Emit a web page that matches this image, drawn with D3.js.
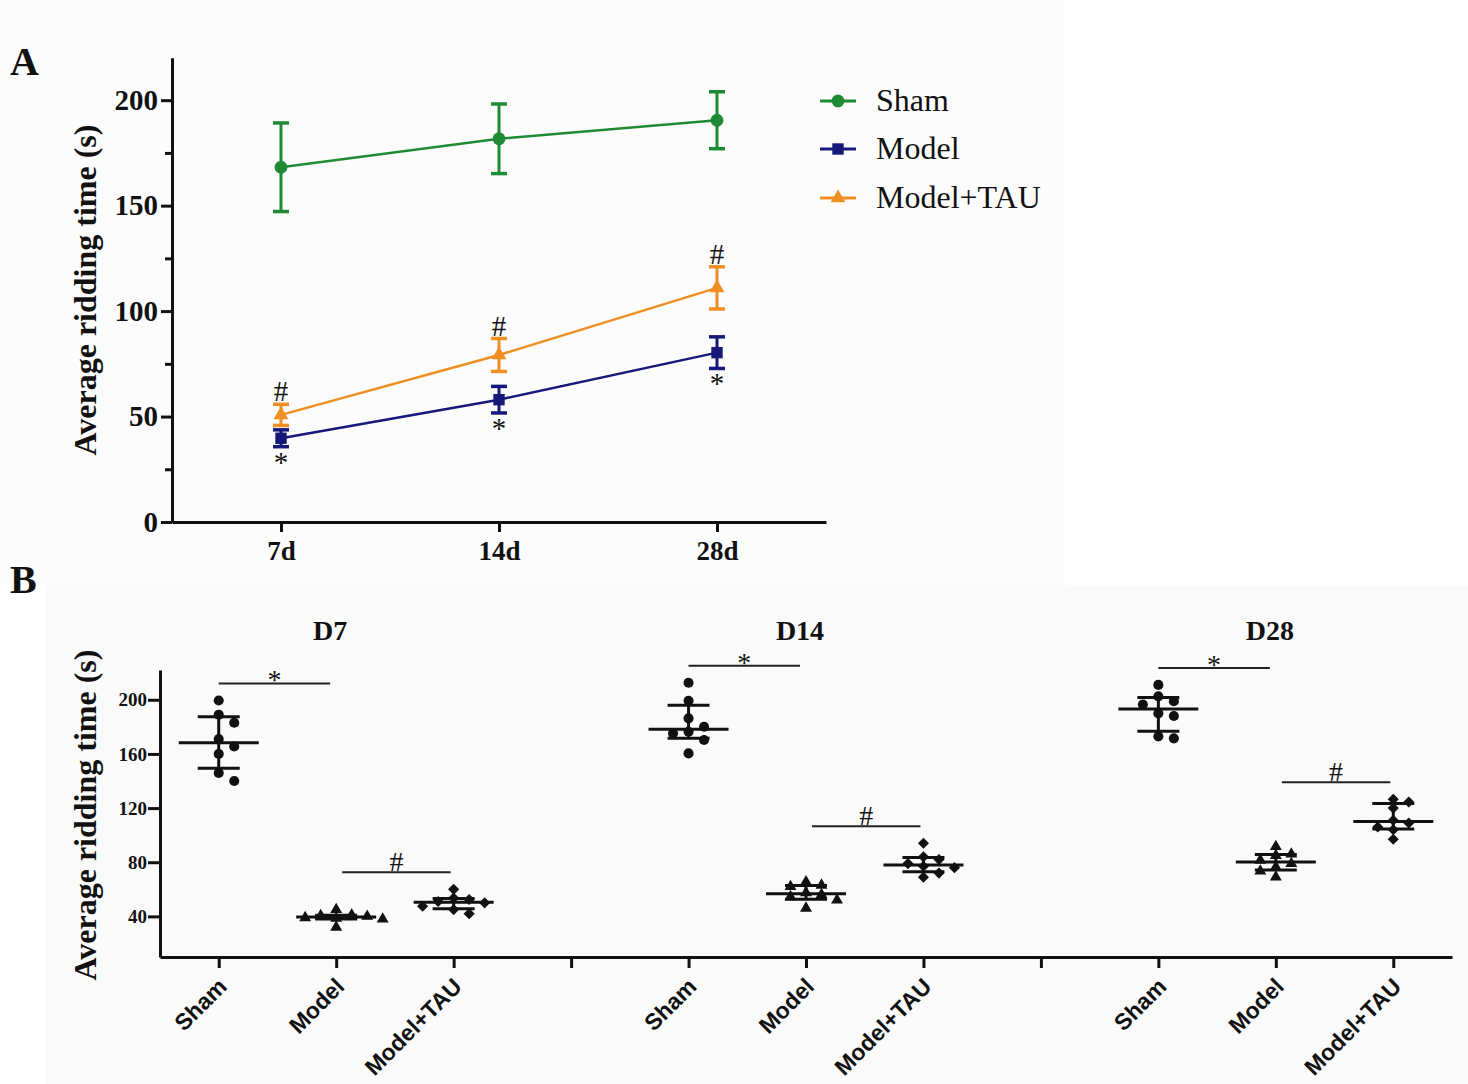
<!DOCTYPE html>
<html>
<head>
<meta charset="utf-8">
<style>
body { margin: 0; background: #fff; }
svg text { font-family: "Liberation Serif", "Times New Roman", serif; fill: #111; }
</style>
</head>
<body>
<svg width="1468" height="1084"></svg>
<script src="https://cdn.jsdelivr.net/npm/d3@7/dist/d3.min.js"></script>
<script>

// ---- panel A: mean +/- SD over time
var days = ["7d", "14d", "28d"];
var groups = ["Sham", "Model", "Model+TAU"];
var shamMean = [168.2, 181.7, 190.5],  shamSD = [21, 16.5, 13.5];
var modelMean = [39.7, 58, 80.3],      modelSD = [4, 6.3, 7.5];
var tauMean = [50.8, 79.2, 111],       tauSD = [5, 7.8, 10];
var yTicksA = [0, 50, 100, 150, 200];
var yMinorA = [25, 75, 125, 175];

// ---- panel B: individual animals per day
var panelsB = ["D7", "D14", "D28"];
var shamPts = [
  [199.5, 189, 183, 171, 165.5, 160, 146, 140],
  [212.6, 199.3, 186.3, 180.1, 176.4, 175.2, 170.3, 160.4],
  [211, 202.5, 199, 196.5, 190, 188, 173, 171.5]
];
var modelPts = [
  [45, 41, 40.5, 40, 39, 38.5, 38, 32],
  [65.5, 63, 62, 57.5, 56, 54.5, 52, 46],
  [91.5, 86, 85, 81.5, 79, 76.5, 73.5, 69]
];
var tauPts = [
  [60, 53.5, 52.5, 51, 50, 47.5, 45, 42],
  [94, 84, 82, 79, 77, 76, 72, 69],
  [126.5, 124.5, 120, 111, 109, 106, 104, 97]
];
var yTicksB = [40, 80, 120, 160, 200];

var svg = d3.select("svg");

// faint scan background of the two panels
svg.append("rect").attr("x", 0).attr("y", 0).attr("width", 1065).attr("height", 585).attr("fill", "#fcfcfc");
svg.append("rect").attr("x", 45).attr("y", 585).attr("width", 1423).attr("height", 499).attr("fill", "#fafafa");

function styleAxis(g, size) {
  g.attr("font-family", null).attr("font-size", null);
  g.selectAll(".domain").attr("stroke", "#111").attr("stroke-width", 3);
  g.selectAll(".tick line").attr("stroke", "#111").attr("stroke-width", 3);
  g.selectAll(".tick text").style("font-size", size + "px").style("font-weight", "bold");
}

// ================= A =================
var colors = { "Sham": "#1f8a35", "Model": "#16187a", "Model+TAU": "#ef8f22" };
var seriesA = [
  { name: "Sham", mean: shamMean, sd: shamSD, symbol: d3.symbolCircle, size: 130 },
  { name: "Model+TAU", mean: tauMean, sd: tauSD, symbol: d3.symbolTriangle, size: 95 },
  { name: "Model", mean: modelMean, sd: modelSD, symbol: d3.symbolSquare, size: 130 }
];

var xA = d3.scalePoint().domain(days).range([172, 826]).padding(0.5);
var yA = d3.scaleLinear().domain([0, 220]).range([522, 58]);

var gA = svg.append("g");

gA.append("g")
    .attr("transform", "translate(172,0)")
    .call(d3.axisLeft(yA).tickValues(yMinorA).tickSize(7).tickSizeOuter(0).tickFormat(""))
    .call(styleAxis, 28);

gA.append("g")
    .attr("transform", "translate(172,0)")
    .call(d3.axisLeft(yA).tickValues(yTicksA).tickSize(11).tickSizeOuter(0).tickPadding(3))
    .call(styleAxis, 29);

gA.append("g")
    .attr("transform", "translate(0,522)")
    .call(d3.axisBottom(xA).tickSize(10).tickSizeOuter(0).tickPadding(9))
    .call(styleAxis, 27);

gA.append("text")
    .attr("transform", "translate(96,290) rotate(-90)")
    .attr("text-anchor", "middle")
    .style("font-size", "32px")
    .style("font-weight", "bold")
    .text("Average ridding time (s)");

var line = d3.line()
    .x(function(d, i) { return xA(days[i]); })
    .y(function(d) { return yA(d); });

seriesA.forEach(function(s) {
  gA.append("path")
      .datum(s.mean)
      .attr("fill", "none")
      .attr("stroke", colors[s.name])
      .attr("stroke-width", 2.5)
      .attr("d", line);
});

seriesA.forEach(function(s) {
  var c = colors[s.name];
  var g = gA.append("g");
  s.mean.forEach(function(m, i) {
    var x = xA(days[i]), lo = yA(m - s.sd[i]), hi = yA(m + s.sd[i]);
    g.append("line").attr("x1", x).attr("x2", x).attr("y1", lo).attr("y2", hi)
        .attr("stroke", c).attr("stroke-width", 3);
    [lo, hi].forEach(function(yy) {
      g.append("line").attr("x1", x - 8).attr("x2", x + 8).attr("y1", yy).attr("y2", yy)
          .attr("stroke", c).attr("stroke-width", 3.5);
    });
    g.append("path")
        .attr("transform", "translate(" + x + "," + yA(m) + ")")
        .attr("d", d3.symbol().type(s.symbol).size(s.size))
        .attr("fill", c);
  });
});

// significance marks of A
tauMean.forEach(function(m, i) {
  gA.append("text")
      .attr("x", xA(days[i])).attr("y", yA(m + tauSD[i]) - 3)
      .attr("text-anchor", "middle").style("font-size", "29px").text("#");
});
modelMean.forEach(function(m, i) {
  gA.append("text")
      .attr("x", xA(days[i])).attr("y", yA(m - modelSD[i]) + 25)
      .attr("text-anchor", "middle").style("font-size", "29px").text("*");
});

// legend
var legendOrder = [seriesA[0], seriesA[2], seriesA[1]];
var legend = gA.selectAll(".legend")
    .data(legendOrder)
  .enter().append("g")
    .attr("transform", function(d, i) { return "translate(838," + [101, 149, 198][i] + ")"; });
legend.append("line")
    .attr("x1", -18).attr("x2", 18)
    .attr("stroke", function(d) { return colors[d.name]; })
    .attr("stroke-width", 3);
legend.append("path")
    .attr("d", function(d) { return d3.symbol().type(d.symbol).size(d.size)(); })
    .attr("fill", function(d) { return colors[d.name]; });
legend.append("text")
    .attr("x", 38).attr("y", 10)
    .style("font-size", "32px")
    .text(function(d) { return d.name; });

svg.append("text").attr("x", 10).attr("y", 75)
    .style("font-size", "40px").style("font-weight", "bold").text("A");

// ================= B =================
var cats = [];
panelsB.forEach(function(p, i) {
  groups.forEach(function(g) { cats.push(p + "|" + g); });
  if (i < panelsB.length - 1) cats.push("gap" + i);
});

var xB = d3.scalePoint().domain(cats).range([160, 1452]).padding(0.5);
var yB = d3.scaleLinear().domain([10, 222]).range([957, 670]);

var gB = svg.append("g");

gB.append("g")
    .attr("transform", "translate(160,0)")
    .call(d3.axisLeft(yB).tickValues(yTicksB).tickSize(12).tickSizeOuter(0).tickPadding(1))
    .call(styleAxis, 19);

var xAxisB = gB.append("g")
    .attr("transform", "translate(0,957)")
    .call(d3.axisBottom(xB).tickSize(11).tickSizeOuter(0)
      .tickFormat(function(d) { return d.indexOf("|") >= 0 ? d.split("|")[1] : ""; }))
    .call(styleAxis, 23);

xAxisB.selectAll(".tick text")
    .attr("y", 0).attr("dy", 0)
    .attr("text-anchor", "end")
    .attr("transform", "translate(9,31) rotate(-45)")
    .style("font-family", "'Liberation Sans', Arial, sans-serif");

gB.append("text")
    .attr("transform", "translate(96,815) rotate(-90)")
    .attr("text-anchor", "middle")
    .style("font-size", "32px")
    .style("font-weight", "bold")
    .text("Average ridding time (s)");

// Prism style quantile
function pq(arr, p) {
  var s = arr.slice().sort(d3.ascending), n = s.length, h = p * (n + 1) - 1;
  if (h <= 0) return s[0];
  if (h >= n - 1) return s[n - 1];
  var lo = Math.floor(h);
  return s[lo] + (h - lo) * (s[lo + 1] - s[lo]);
}

// simple column swarm so that close values spread sideways
function swarm(vals, gap, step) {
  var placed = [], offs = [];
  var order = vals.map(function(v, i) { return i; })
      .sort(function(a, b) { return vals[b] - vals[a]; });
  order.forEach(function(i) {
    var py = yB(vals[i]);
    for (var k = 0; k < 20; k++) {
      var c = k === 0 ? 0 : (k % 2 ? (k + 1) / 2 : -k / 2);
      var hit = placed.some(function(p) { return p.c === c && Math.abs(p.y - py) < gap; });
      if (!hit) { placed.push({ c: c, y: py }); offs[i] = c * step; break; }
    }
  });
  return offs;
}

var symbolsB = {
  "Sham": { type: d3.symbolCircle, size: 80, rot: 0 },
  "Model": { type: d3.symbolTriangle, size: 62, rot: 0 },
  "Model+TAU": { type: d3.symbolSquare, size: 62, rot: 45 }
};

panelsB.forEach(function(p, pi) {
  var sets = { "Sham": shamPts[pi], "Model": modelPts[pi], "Model+TAU": tauPts[pi] };

  groups.forEach(function(g) {
    var vals = sets[g], x = xB(p + "|" + g), sym = symbolsB[g];
    var offs = swarm(vals, 8.5, 15.5);
    gB.selectAll(null)
        .data(vals)
      .enter().append("path")
        .attr("transform", function(d, i) {
          return "translate(" + (x + offs[i]) + "," + yB(d) + ") rotate(" + sym.rot + ")";
        })
        .attr("d", d3.symbol().type(sym.type).size(sym.size))
        .attr("fill", "#111");

    var med = yB(pq(vals, 0.5)), q1 = yB(pq(vals, 0.25)), q3 = yB(pq(vals, 0.75));
    var lg = gB.append("g").attr("stroke", "#111").attr("stroke-width", 3);
    lg.append("line").attr("x1", x - 40).attr("x2", x + 40).attr("y1", med).attr("y2", med);
    lg.append("line").attr("x1", x - 21).attr("x2", x + 21).attr("y1", q1).attr("y2", q1);
    lg.append("line").attr("x1", x - 21).attr("x2", x + 21).attr("y1", q3).attr("y2", q3);
    lg.append("line").attr("x1", x).attr("x2", x).attr("y1", q1).attr("y2", q3);
  });

  gB.append("text")
      .attr("x", xB(p + "|Model") - 6).attr("y", 640)
      .attr("text-anchor", "middle")
      .style("font-size", "28px").style("font-weight", "bold")
      .text(p);

  // * Sham vs Model, # Model vs Model+TAU
  var xs = xB(p + "|Sham"), xm = xB(p + "|Model"), xt = xB(p + "|Model+TAU");
  var yStar = yB(d3.max(sets["Sham"].concat(sets["Model"]))) - 17;
  var yHash = yB(d3.max(sets["Model"].concat(sets["Model+TAU"]))) - 17;
  gB.append("line").attr("x1", xs).attr("x2", xm - 6).attr("y1", yStar).attr("y2", yStar)
      .attr("stroke", "#222").attr("stroke-width", 2);
  gB.append("text").attr("x", (xs + xm - 6) / 2).attr("y", yStar + 6)
      .attr("text-anchor", "middle").style("font-size", "28px").text("*");
  gB.append("line").attr("x1", xm + 6).attr("x2", xt - 3).attr("y1", yHash).attr("y2", yHash)
      .attr("stroke", "#222").attr("stroke-width", 2);
  gB.append("text").attr("x", (xm + xt + 3) / 2).attr("y", yHash - 1)
      .attr("text-anchor", "middle").style("font-size", "28px").text("#");
});

svg.append("text").attr("x", 10).attr("y", 593)
    .style("font-size", "40px").style("font-weight", "bold").text("B");

</script>
</body>
</html>
